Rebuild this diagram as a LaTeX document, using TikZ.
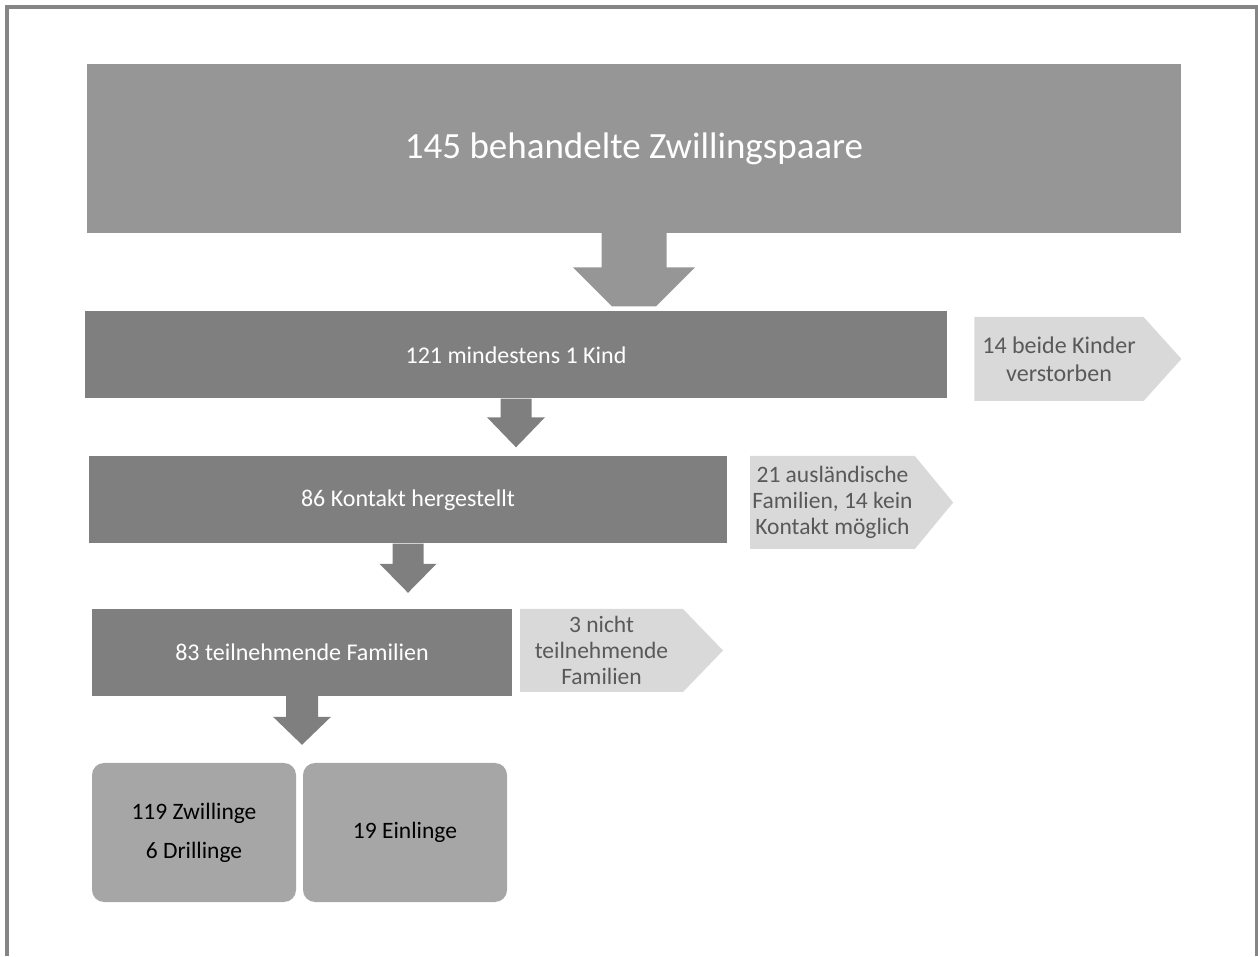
\documentclass[tikz,border=0pt]{standalone}
\usepackage{fontspec}
\setmainfont{Carlito}
\usetikzlibrary{calc,shapes.symbols}

\definecolor{topgray}{HTML}{969696}
\definecolor{stepgray}{HTML}{7F7F7F}
\definecolor{sidegray}{HTML}{D9D9D9}
\definecolor{sidetext}{HTML}{595959}
\definecolor{resultgray}{HTML}{A6A6A6}
\definecolor{framegray}{HTML}{858585}

% block arrow: colour, from, to, gap, shaft half width, head half width, head length, flat half width
\newcommand{\flowarrow}[8]{%
  \coordinate (tip) at ($(#2.south |- #3.north)+(0,#4)$);
  \fill[#1] ($(#2.south)+(-#5,0)$) -- ($(tip)+(-#5,#7)$) -- ($(tip)+(-#6,#7)$) -- ($(tip)+(-#8,0)$)
    -- ($(tip)+(#8,0)$) -- ($(tip)+(#6,#7)$) -- ($(tip)+(#5,#7)$) -- ($(#2.south)+(#5,0)$) -- cycle;}

\begin{document}
\begin{tikzpicture}[
    x=1pt, y=1pt,
    topbox/.style={fill=topgray, text=white, minimum width=1094pt, minimum height=169pt, font=\fontsize{37}{44}\selectfont},
    stepbox/.style={fill=stepgray, text=white, minimum height=87pt, font=\fontsize{24}{29}\selectfont},
    sidebox/.style={signal, signal to=east, signal pointer angle=96, fill=sidegray, text=sidetext, align=center,
      minimum width=205pt, minimum height=84pt, inner sep=0pt, font=\fontsize{23.5}{25.8}\selectfont},
    resultbox/.style={fill=resultgray, rounded corners=12pt, minimum width=204pt, minimum height=139pt,
      align=center, font=\fontsize{23.5}{39}\selectfont}
]
\useasboundingbox (0,0) rectangle (1258,956);
\draw[framegray, line width=3.5pt] (7,0) -- (7,949) -- (1256.5,949) -- (1256.5,0);

\node[topbox] (top) at (634,807.5) {145 behandelte Zwillingspaare};
\node[stepbox, minimum width=862pt] (kind) at (516,601) {121 mindestens 1 Kind};
\node[stepbox, minimum width=638pt] (kontakt) at (408,456) {86 Kontakt hergestellt};
\node[stepbox, minimum width=420pt] (teiln) at (302,303.5) {83 teilnehmende Familien};

\node[sidebox, minimum width=207pt, font=\fontsize{24}{28}\selectfont] (verst) at (1059,597) {14 beide Kinder\\verstorben};
\node[sidebox, minimum width=203pt, minimum height=93pt, signal pointer angle=101] (ausl) at (832.5,453.5) {21 ausländische\\Familien, 14 kein\\Kontakt möglich};
\node[sidebox, minimum width=203pt, minimum height=83pt, signal pointer angle=92] (nicht) at (601.5,305.5) {3 nicht\\teilnehmende\\Familien};

\node[resultbox] (zwill) at (194,123.5) {119 Zwillinge\\6 Drillinge};
\node[resultbox] (einl) at (405,123.5) {19 Einlinge};

\flowarrow{topgray}{top}{kind}{5}{32.5}{61}{39}{22}
\flowarrow{stepgray}{kind}{kontakt}{9}{15.5}{29}{30}{0}
\flowarrow{stepgray}{kontakt}{teiln}{16}{15.5}{28.5}{29}{0}
\flowarrow{stepgray}{teiln}{zwill}{18}{16}{29}{28}{0}
\end{tikzpicture}
\end{document}
